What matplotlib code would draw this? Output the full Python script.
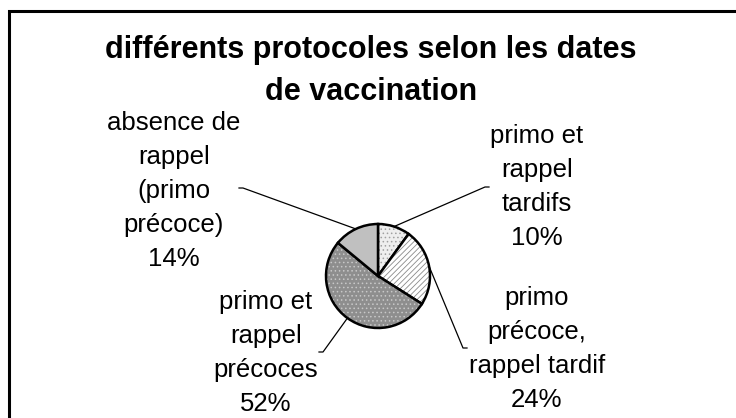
import numpy as np
import matplotlib
matplotlib.use("Agg")
import matplotlib.pyplot as plt
from matplotlib.patches import Rectangle

plt.rcParams['font.family'] = ['Liberation Sans', 'DejaVu Sans']
plt.rcParams['hatch.linewidth'] = 0.6

# Share of each vaccination protocol (clockwise from 12 o'clock)
categories = ["primo et\nrappel\ntardifs",
              "primo\nprécoce,\nrappel tardif",
              "primo et\nrappel\nprécoces",
              "absence de\nrappel\n(primo\nprécoce)"]
values = [10, 24, 52, 14]
title = "différents protocoles selon les dates\nde vaccination"

W, H = 736, 418
fig = plt.figure(figsize=(W / 100, H / 100), dpi=100)
ax = fig.add_axes([0, 0, 1, 1])

def Y(y):
    return H - y

cx, cy, r = 378, 276, 52
faces = ['#eeeeee', '#ffffff', '#8e8e8e', '#c0c0c0']
hatches = ['....', '//////', '....', None]
hcols = ['#a0a0a0', '#8a8a8a', '#c8c8c8', None]
wedges, _ = ax.pie(values, center=(cx, Y(cy)), radius=r, startangle=90,
                   counterclock=False, colors=faces,
                   wedgeprops=dict(edgecolor='black', linewidth=1.8))
for w, h, hc in zip(wedges, hatches, hcols):
    if h:
        w.set_hatch(h)
        w._hatch_color = matplotlib.colors.to_rgba(hc)

ax.set_xlim(0, W)
ax.set_ylim(0, H)
ax.set_aspect('equal')
ax.axis('off')

# chart frame (clipped by the right and bottom edges)
ax.add_patch(Rectangle((9, Y(H + 20)), W + 20, H + 20 - 11,
                       fill=False, lw=2.2, ec='black', clip_on=False))

def draw_lines(x, y0, step, lines, **kw):
    for i, s in enumerate(lines):
        ax.text(x, Y(y0 + i * step), s, ha='center', va='baseline', **kw)

# labels with leader lines to the mid-angle of each wedge
label_x = [537, 537, 266, 174]
label_base = [143, 305, 309, 130]
line_end = [(485, 187), (463, 348), (323, 352), (243, 188)]
tick_dir = [1, 1, -1, -1]
total = sum(values)
for w, cat, v, lx, lb, (ex, ey), td in zip(wedges, categories, values,
                                           label_x, label_base, line_end,
                                           tick_dir):
    mid = np.deg2rad((w.theta1 + w.theta2) / 2)
    px, py = cx + r * np.cos(mid), Y(cy) + r * np.sin(mid)
    ax.plot([px, ex, ex + 4 * td], [py, Y(ey), Y(ey)], color='black', lw=0.9)
    pct = round(100 * v / total)
    draw_lines(lx, lb, 34, cat.split("\n") + [f"{pct}%"],
               fontsize=18.5, color='black')

draw_lines(371, 58, 42, title.split("\n"), fontsize=22, fontweight='bold',
           color='black')

fig.savefig("out.png", dpi=100)
